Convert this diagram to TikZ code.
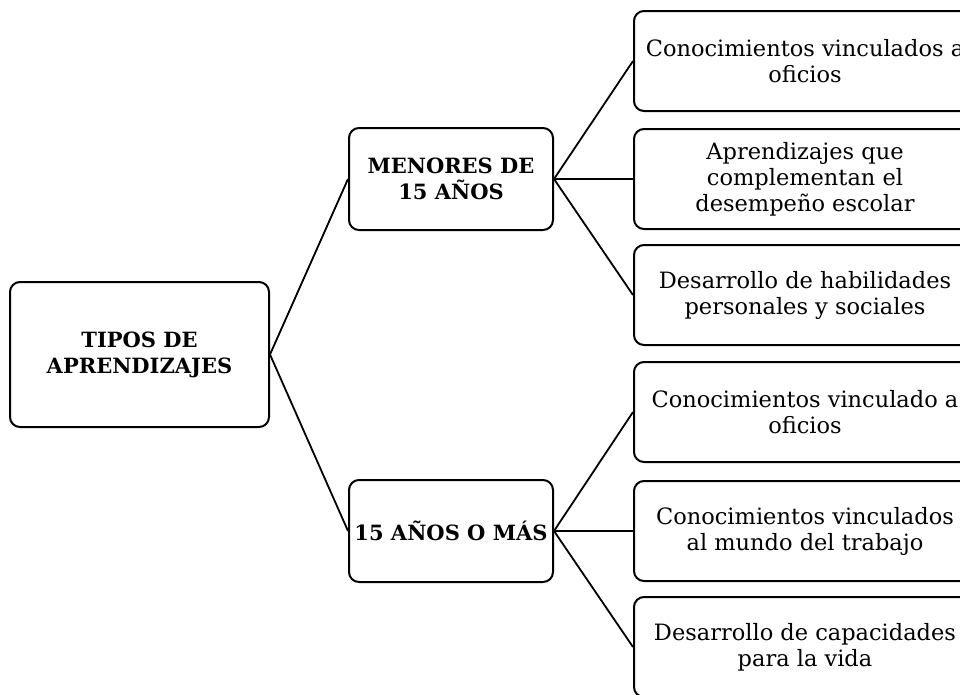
\documentclass[tikz,border=0pt]{standalone}
\usepackage{fontspec}
\setmainfont{DejaVu Serif}
\usepackage{tikz}
\usetikzlibrary{positioning}
\tikzset{
    base/.style={
        font=\fontsize{22.5}{26}\selectfont,
        align=center
    },
    box/.style={
        base,
        rectangle,
        rounded corners=10pt,
        draw=black,
        line width=2pt,
        fill=white,
        inner sep=2pt
    },
    root/.style={
        box,
        font=\fontsize{21}{26}\selectfont\bfseries,
        minimum width=259pt,
        minimum height=145pt
    },
    group/.style={
        box,
        font=\fontsize{21}{26}\selectfont\bfseries,
        minimum width=204pt,
        minimum height=102pt
    },
    leaf/.style={
        box,
        minimum width=342pt,
        minimum height=100pt
    },
    link/.style={
        line width=1.8pt,
        color=black
    }
}
\begin{document}
\begin{tikzpicture}[x=1pt, y=-1pt]
  \clip (0,0) rectangle (960,694);

  % Root
  \node[root] (tipos) at (139.5,354.5) {TIPOS DE\\APRENDIZAJES};

  % Groups
  \node[group] (menores) at (451,179) {MENORES DE\\15 AÑOS};
  \node[group] (mas) at (451,531) {15 AÑOS O MÁS};

  % Leaves of the first group
  \node[leaf] (m1) at (805,61) {Conocimientos vinculados a\\oficios};
  \node[leaf] (m2) at (805,179) {Aprendizajes que\\complementan el\\desempeño escolar};
  \node[leaf] (m3) at (805,295) {Desarrollo de habilidades\\personales y sociales};

  % Leaves of the second group
  \node[leaf] (s1) at (805,412) {Conocimientos vinculado a\\oficios};
  \node[leaf] (s2) at (805,531) {Conocimientos vinculados\\al mundo del trabajo};
  \node[leaf] (s3) at (805,647) {Desarrollo de capacidades\\para la vida};

  % Lines
  \draw[link] (tipos.east) -- (menores.west);
  \draw[link] (tipos.east) -- (mas.west);
  \draw[link] (menores.east) -- (m1.west);
  \draw[link] (menores.east) -- (m2.west);
  \draw[link] (menores.east) -- (m3.west);
  \draw[link] (mas.east) -- (s1.west);
  \draw[link] (mas.east) -- (s2.west);
  \draw[link] (mas.east) -- (s3.west);
\end{tikzpicture}
\end{document}
